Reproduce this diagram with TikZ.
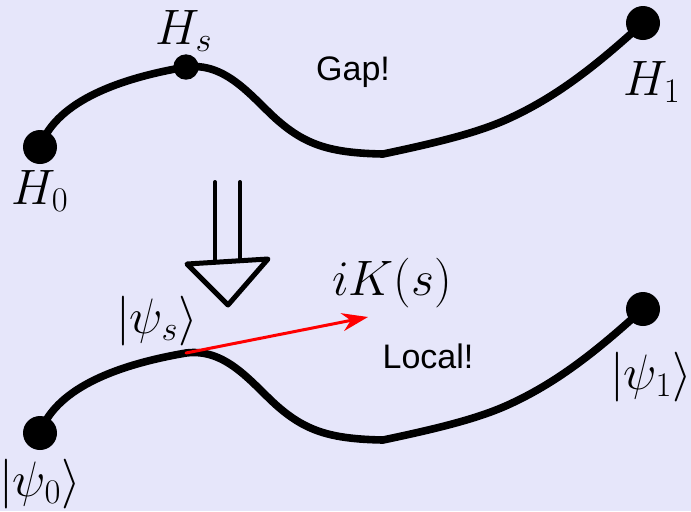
\documentclass[tikz,border=0pt]{standalone}
\usepackage{fontspec}
\newfontfamily\notesans{Liberation Sans}
\usetikzlibrary{arrows.meta}
\definecolor{bglav}{RGB}{230,230,250}

\begin{document}
\begin{tikzpicture}[x=0.5pt,y=-0.5pt,line cap=round,line join=round,
    track/.style={line width=3.8pt},
    enddot/.style={circle,fill=black,inner sep=0pt,minimum size=17pt},
    middot/.style={circle,fill=black,inner sep=0pt,minimum size=12.7pt},
    mathlbl/.style={font=\fontsize{24}{28}\selectfont,inner sep=0pt},
    notelbl/.style={font=\notesans\fontsize{17}{20}\selectfont,inner sep=0pt}]
  \fill[bglav] (0,0) rectangle (691,511);
  \useasboundingbox (0,0) rectangle (691,511);
  % path of Hamiltonians
  \draw[track] (40,147) node[enddot] (H0) {}
    .. controls (55,105) and (110,80) .. (186,67) node[middot] (Hs) {}
    .. controls (225,62) and (250,95) .. (275,118)
    .. controls (305,145) and (330,153) .. (383,154)
    .. controls (440,142) and (480,132) .. (510,118)
    .. controls (560,95) and (600,62) .. (643,23) node[enddot] (H1) {};
  \node[mathlbl] (lblHs) at (184,31) {$H_s$};
  \node[mathlbl] (lblH0) at (40,191) {$H_0$};
  \node[mathlbl] (lblH1) at (652,82) {$H_1$};
  \node[notelbl] (gap) at (353,72) {Gap!};
  % implies
  \draw[line width=2pt] (215,182) -- (215,262);
  \draw[line width=2pt] (240,182) -- (240,261);
  \draw[line width=2.5pt] (187,264) -- (268,259) -- (228,305) -- cycle;
  % path of states
  \begin{scope}[shift={(0,286)}]
    \draw[track] (40,147) node[enddot] (psi0) {}
      .. controls (55,105) and (110,80) .. (186,67) coordinate (psis)
      .. controls (225,62) and (250,95) .. (275,118)
      .. controls (305,145) and (330,153) .. (383,154)
      .. controls (440,142) and (480,132) .. (510,118)
      .. controls (560,95) and (600,62) .. (643,23) node[enddot] (psi1) {};
  \end{scope}
  \coordinate (ktip) at (368,317);
  \draw[red,line width=1.5pt,-{Stealth[length=13pt,width=9pt]}] (psis) -- (ktip);
  \node[mathlbl] (lblpsis) at (157,321) {$|\psi_s\rangle$};
  \node[mathlbl] (lblpsi0) at (40,484) {$|\psi_0\rangle$};
  \node[mathlbl] (lblpsi1) at (651,377) {$|\psi_1\rangle$};
  \node[mathlbl] (lblK) at (392,283) {$iK(s)$};
  \node[notelbl] (local) at (428,356) {Local!};
\end{tikzpicture}
\end{document}
